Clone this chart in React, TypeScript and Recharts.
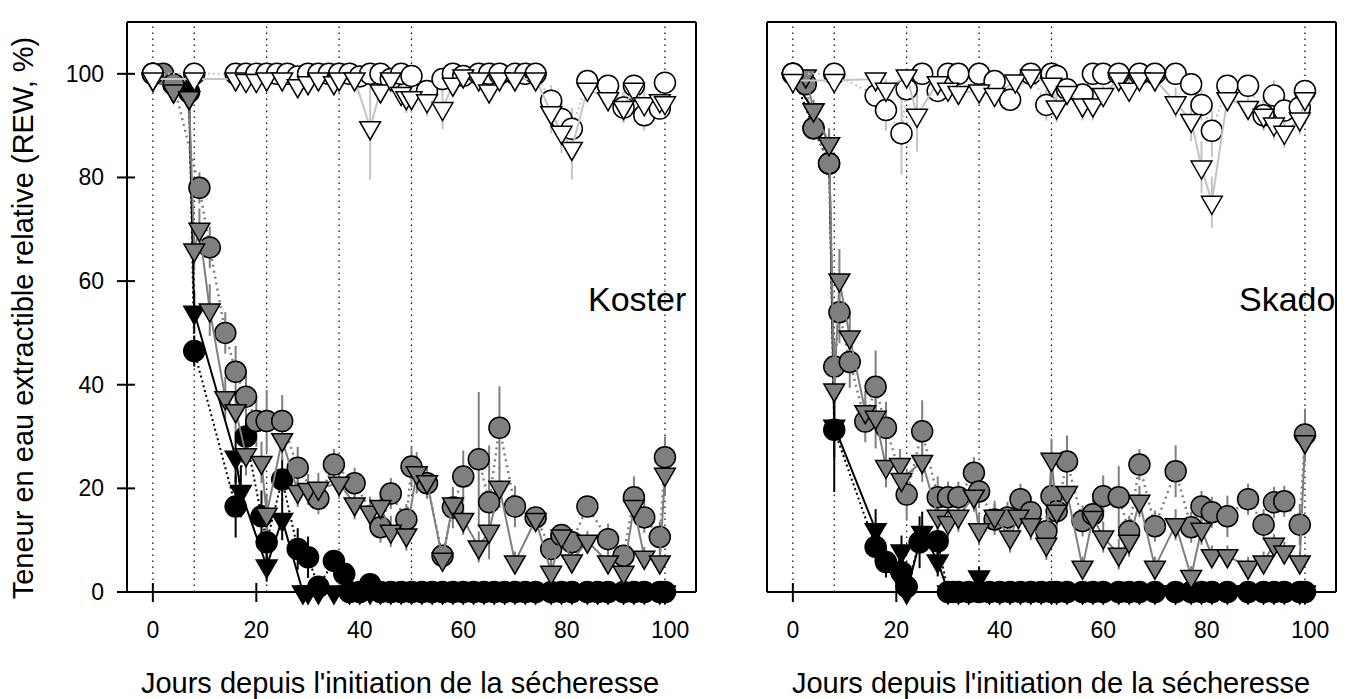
import React from "react";
import { ScatterChart, Scatter, XAxis, YAxis, ErrorBar, ReferenceLine } from "recharts";

// [day, REW %, SE]
type Pt = [number, number, number];

const xTicks = [0, 20, 40, 60, 80, 100];
const yTicks = [0, 20, 40, 60, 80, 100];
const phaseDays = [0, 8, 22, 36, 50, 99];

// ---- Koster ----
const kosterWhiteCircle: Pt[] = [
  [0, 100, 0], [8, 100, 0], [16, 100, 0], [18, 100, 0], [20, 100, 0], [22, 100, 0], [24, 100, 0], [26, 100, 0],
  [28, 99.5, 1], [30, 100, 0], [32, 100, 0], [34, 100, 0], [36, 100, 0], [38, 100, 0], [40, 99.5, 1], [42, 100, 0],
  [44, 100, 0], [46, 99, 2], [48, 100, 0], [50, 99.6, 1], [53, 96.7, 2], [56, 99, 2], [58, 100, 0], [60, 99.6, 1],
  [63, 100, 0], [65, 100, 0], [67, 100, 0], [70, 100, 0], [72, 100, 0], [74, 100, 0], [77, 94.8, 3], [79, 91.3, 4],
  [81, 89.4, 4], [84, 98.6, 1], [88, 97.7, 2], [91, 93.5, 3], [93, 97.7, 2], [95, 92, 3], [98, 93.3, 2], [99, 98.3, 2],
];
const kosterWhiteTri: Pt[] = [
  [0, 99, 0], [8, 99, 0], [16, 99, 0], [18, 98.7, 1], [20, 98.7, 1], [22, 99, 0], [25, 99, 0], [28, 97.7, 1],
  [30, 98.3, 1], [32, 99, 0], [35, 98.3, 1], [36, 99, 0], [39, 99, 0], [42, 89.6, 10], [44, 96.7, 2], [46, 99, 0],
  [48, 96.2, 2], [49, 95.4, 3], [50, 95.4, 3], [53, 94.8, 3], [56, 93.3, 4], [58, 98, 1], [60, 99.6, 0], [63, 99, 0],
  [65, 96.7, 2], [67, 99, 0], [70, 99, 0], [74, 99, 0], [77, 92.5, 4], [79, 88.7, 4], [81, 85.6, 6], [84, 97, 1],
  [88, 95.2, 2], [91, 93.5, 3], [93, 97, 2], [95, 94.2, 3], [98, 94.8, 2], [99, 94.4, 2],
];
const kosterGreyCircle: Pt[] = [
  [0, 100, 0], [2, 100, 0], [4, 98, 1], [9, 78, 3], [11, 66.5, 4], [14, 50, 4], [16, 42.5, 5], [18, 37.7, 5],
  [20, 33, 5], [22, 33, 6], [25, 33, 5], [28, 24, 4], [32, 18, 3], [35, 24.6, 3], [39, 21, 3], [44, 12.5, 3],
  [46, 19, 3], [49, 14, 3], [50, 24.2, 4], [53, 21, 3], [56, 7, 2], [58, 16.3, 4], [60, 22.3, 5], [63, 25.6, 13],
  [65, 17.3, 11], [67, 31.7, 8], [70, 16.5, 4], [74, 14.4, 2], [77, 8.3, 3], [79, 11, 2], [81, 9.6, 2], [84, 16.5, 2],
  [88, 10.2, 3], [91, 7, 2], [93, 18.3, 4], [95, 14.4, 3], [98, 10.6, 3], [99, 26, 4],
];
const kosterGreyTri: Pt[] = [
  [0, 99, 0], [4, 96.7, 1], [7, 95.4, 1], [8, 66, 4], [9, 70, 4], [11, 54.4, 5], [14, 37.5, 4], [16, 35, 4],
  [18, 26.5, 4], [21, 25, 4], [22, 15, 4], [25, 29.4, 4], [28, 19.4, 3], [30, 19.8, 3], [32, 20, 3], [36, 21, 3],
  [39, 17, 3], [42, 15.4, 3], [44, 16.5, 3], [46, 11.7, 3], [49, 11, 3], [51, 23, 4], [53, 21.3, 3], [56, 6.3, 2],
  [58, 17, 3], [60, 14, 3], [63, 8.7, 3], [65, 11.7, 3], [67, 20.2, 4], [70, 5.8, 2], [74, 14, 2], [77, 3.8, 2],
  [79, 10.8, 2], [81, 6, 2], [84, 9.8, 2], [88, 5.8, 2], [91, 3.8, 2], [93, 16.5, 2], [95, 6.7, 2], [98, 5.8, 2],
  [99, 22.7, 4],
];
const kosterBlackCircle: Pt[] = [
  [0, 100, 0], [4, 98, 0], [7, 96.5, 1], [8, 46.5, 3], [16, 16.5, 6], [18, 30, 4], [21, 14.6, 5], [22, 9.6, 5],
  [25, 21.7, 4], [28, 8.3, 4], [30, 6.7, 4], [32, 1, 1], [35, 6, 2], [37, 3.5, 2], [38, 0, 0], [40, 0, 0],
  [42, 1.5, 1], [44, 0, 0], [46, 0, 0], [48, 0, 0], [50, 0, 0], [52, 0, 0], [54, 0, 0], [56, 0, 0], [58, 0, 0],
  [60, 0, 0], [62, 0, 0], [64, 0, 0], [66, 0, 0], [68, 0, 0], [70, 0, 0], [72, 0, 0], [74, 0, 0], [77, 0, 0],
  [79, 0, 0], [81, 0, 0], [84, 0, 0], [86, 0, 0], [88, 0, 0], [91, 0, 0], [93, 0, 0], [95, 0, 0], [98, 0, 0],
  [99, 0, 0],
];
const kosterBlackTri: Pt[] = [
  [0, 99, 0], [4, 96.7, 0], [7, 95.4, 1], [8, 54, 4], [16, 26, 5], [17, 19.4, 5], [22, 5, 3], [25, 14, 4],
  [29, 0, 0], [30, 0, 0], [32, 0, 0], [35, 0, 0], [38, 0, 0], [40, 0, 0], [42, 0, 0], [44, 0, 0], [46, 0, 0],
  [48, 0, 0], [50, 0, 0], [52, 0, 0], [54, 0, 0], [56, 0, 0], [58, 0, 0], [60, 0, 0], [62, 0, 0], [64, 0, 0],
  [66, 0, 0], [68, 0, 0], [70, 0, 0], [72, 0, 0], [74, 0, 0], [77, 0, 0], [79, 0, 0], [81, 0, 0], [84, 0, 0],
  [86, 0, 0], [88, 0, 0], [91, 0, 0], [93, 0, 0], [95, 0, 0], [98, 0, 0], [99, 0, 0],
];

// ---- Skado ----
const skadoWhiteCircle: Pt[] = [
  [0, 100, 0], [8, 100, 0], [16, 95.8, 3], [18, 93, 4], [21, 88.5, 8], [22, 97, 2], [25, 100, 0], [28, 96.7, 2],
  [30, 100, 0], [32, 100, 0], [36, 100, 0], [39, 98.6, 2], [42, 95, 2], [46, 100, 0], [49, 94, 3], [50, 100, 0],
  [51, 99.6, 0], [53, 97, 2], [56, 96, 2], [58, 100, 0], [60, 100, 0], [63, 100, 0], [67, 100, 0], [70, 100, 0],
  [74, 100, 0], [77, 98, 2], [79, 94, 3], [81, 89, 5], [84, 97.7, 2], [88, 97.7, 2], [91, 92, 3], [93, 95.8, 3],
  [95, 92.9, 3], [98, 93.5, 2], [99, 96.7, 2],
];
const skadoWhiteTri: Pt[] = [
  [0, 98.7, 0], [8, 98.7, 0], [16, 99, 1], [18, 97, 2], [22, 99.6, 1], [24, 92, 7], [28, 98.3, 1], [30, 97, 1],
  [32, 96.4, 2], [36, 96.7, 2], [39, 96, 2], [43, 98.6, 1], [46, 99.6, 0], [50, 98, 1], [51, 93.6, 3], [53, 96.4, 2],
  [56, 94, 3], [58, 94, 3], [60, 96, 2], [63, 99, 1], [65, 97, 2], [67, 99, 0], [70, 99, 1], [74, 94.4, 3],
  [77, 91, 4], [79, 82, 5], [81, 75.2, 5], [84, 95.2, 2], [88, 93.5, 2], [91, 92, 3], [93, 90.3, 3], [95, 88.7, 3],
  [98, 91.3, 3], [99, 95.2, 3],
];
const skadoGreyCircle: Pt[] = [
  [0, 100, 0], [2.5, 98, 1], [4, 89.5, 2], [7, 82.7, 3], [8, 43.5, 5], [9, 54, 6], [11, 44.4, 5], [14, 32.9, 4],
  [16, 39.6, 7], [18, 31.7, 5], [22, 18.8, 5], [25, 31, 6], [28, 18.3, 4], [30, 18.3, 3], [32, 18.3, 3], [35, 23, 3],
  [36, 19.4, 3], [39, 14, 3], [41.5, 14.4, 3], [44, 17.9, 3], [46, 15.4, 3], [49, 11.7, 3], [50, 18.5, 4], [51, 15.6, 4],
  [53, 25.2, 5], [56, 13.7, 3], [58, 15, 3], [60, 18.5, 4], [63, 18.3, 6], [65, 11.7, 3], [67, 24.6, 3], [70, 12.7, 3],
  [74, 23.3, 5], [77, 12.5, 3], [79, 16.5, 3], [81, 15.4, 3], [84, 14.6, 4], [88, 17.9, 3], [91, 13, 3], [93, 17.3, 3],
  [95, 17.5, 3], [98, 13, 4], [99, 30.4, 5],
];
const skadoGreyTri: Pt[] = [
  [0, 99, 0], [2.5, 99.6, 1], [4, 93, 2], [7, 86.5, 3], [8, 39, 4], [9, 60.2, 6], [11, 49.2, 5], [14, 34.8, 4],
  [16, 33.7, 6], [18, 24.2, 4], [20.7, 24.6, 3], [21, 21.7, 3], [25, 25.2, 4], [28, 14.6, 3], [30, 13.4, 3], [32, 14.6, 3],
  [35, 18.5, 3], [36, 12, 3], [39, 14.6, 3], [42, 10.6, 3], [43.6, 14.6, 3], [46, 13, 3], [49, 9.2, 3], [50, 25.6, 4],
  [51, 15.6, 3], [53, 19.2, 3], [56, 4.8, 2], [58, 14.4, 3], [60, 10.6, 3], [63, 7.3, 3], [65, 9.8, 3], [67, 17.5, 3],
  [70, 4.8, 2], [74, 13, 3], [77, 3, 2], [79, 12.1, 3], [81, 7, 2], [84, 7, 2], [88, 4.8, 2], [91, 5.8, 2],
  [93, 9.2, 2], [95, 7.7, 2], [98, 5.8, 2], [99, 29, 4],
];
const skadoBlackCircle: Pt[] = [
  [0, 100, 0], [4, 89.5, 1], [7, 82.7, 2], [8, 31.3, 12], [16, 8.7, 3], [18, 5.8, 3], [21, 3.8, 3], [22, 1, 1],
  [24.5, 9.6, 5], [28, 9.8, 4], [30, 0, 0], [31, 0, 0], [32, 0, 0], [34, 0, 0], [36, 0, 0], [38, 0, 0], [40, 0, 0],
  [42, 0, 0], [44, 0, 0], [46, 0, 0], [48, 0, 0], [50, 0, 0], [51, 0, 0], [53, 0, 0], [56, 0, 0], [58, 0, 0],
  [60, 0, 0], [63, 0, 0], [65, 0, 0], [67, 0, 0], [70, 0, 0], [74, 0, 0], [77, 0, 0], [79, 0, 0], [81, 0, 0],
  [84, 0, 0], [88, 0, 0], [91, 0, 0], [93, 0, 0], [95, 0, 0], [98, 0, 0], [99, 0, 0],
];
const skadoBlackTri: Pt[] = [
  [0, 99, 0], [4, 93, 1], [7, 86.5, 2], [8, 32, 6], [16, 12, 4], [20, 4, 2], [21, 7.9, 3], [22, 0, 0],
  [25, 11.5, 4], [28, 6, 3], [30, 0, 0], [32, 0, 0], [34, 0, 0], [36, 2.9, 2], [38, 0, 0], [40, 0, 0], [42, 0, 0],
  [44, 0, 0], [46, 0, 0], [48, 0, 0], [50, 0, 0], [51, 0, 0], [53, 0, 0], [56, 0, 0], [58, 0, 0], [60, 0, 0],
  [63, 0, 0], [65, 0, 0], [67, 0, 0], [70, 0, 0], [74, 0, 0], [77, 0, 0], [79, 0, 0], [81, 0, 0], [84, 0, 0],
  [88, 0, 0], [91, 0, 0], [93, 0, 0], [95, 0, 0], [98, 0, 0], [99, 0, 0],
];

const FONT = '"Liberation Sans", Arial, Helvetica, sans-serif';
const GREY = "#7f7f7f";
const LIGHT = "#c4c4c4";
const axisLine = { stroke: "#000", strokeWidth: 2 };

type Series = { key: string; pts: Pt[]; fill: string; shape: "c" | "t"; line: string; dash?: string; lw: number; err: string };

// drawing order: black, grey, white (white on top)
function seriesFor(gc: Pt[], gt: Pt[], bc: Pt[], bt: Pt[], wc: Pt[], wt: Pt[]): Series[] {
  return [
    { key: "bc", pts: bc, fill: "#000", shape: "c", line: "#000", dash: "2 3", lw: 2, err: "#000" },
    { key: "bt", pts: bt, fill: "#000", shape: "t", line: "#000", lw: 2, err: "#000" },
    { key: "gc", pts: gc, fill: GREY, shape: "c", line: GREY, dash: "2 4", lw: 2.5, err: GREY },
    { key: "gt", pts: gt, fill: GREY, shape: "t", line: GREY, lw: 2, err: GREY },
    { key: "wc", pts: wc, fill: "#fff", shape: "c", line: LIGHT, dash: "2 3", lw: 2, err: LIGHT },
    { key: "wt", pts: wt, fill: "#fff", shape: "t", line: LIGHT, lw: 2, err: LIGHT },
  ];
}

const circleShape = (fill: string) => (p: any) =>
  <circle cx={p.cx} cy={p.cy} r={10.5} fill={fill} stroke="#000" strokeWidth={1.5} />;

const triShape = (fill: string) => (p: any) => {
  const { cx, cy } = p;
  return (
    <polygon
      points={`${cx - 10.4},${cy - 6} ${cx + 10.4},${cy - 6} ${cx},${cy + 12}`}
      fill={fill}
      stroke="#000"
      strokeWidth={1.5}
    />
  );
};

const BottomTick = (p: any) => (
  <g>
    <line x1={p.x} x2={p.x} y1={p.y - 9} y2={p.y + 10} stroke="#000" strokeWidth={2} />
    <text x={p.x} y={p.y + 46} textAnchor="middle" fontSize={23} fontFamily={FONT} fill="#000">
      {p.payload.value}
    </text>
  </g>
);
const TopTick = (p: any) => <line x1={p.x} x2={p.x} y1={p.y - 9} y2={p.y + 10} stroke="#000" strokeWidth={2} />;
const LeftTick = (p: any) => (
  <g>
    <line x1={p.x - 10} x2={p.x + 8} y1={p.y} y2={p.y} stroke="#000" strokeWidth={2} />
    <text x={p.x - 23} y={p.y + 8} textAnchor="end" fontSize={23} fontFamily={FONT} fill="#000">
      {p.payload.value}
    </text>
  </g>
);
const RightTick = (p: any) => <line x1={p.x - 9} x2={p.x + 10} y1={p.y} y2={p.y} stroke="#000" strokeWidth={2} />;

function Panel({ series, isLeft }: { series: Series[]; isLeft: boolean }) {
  return (
    <ScatterChart width={isLeft ? 710 : 634} height={699} margin={{ top: 0, right: isLeft ? 4 : 0, bottom: 47, left: 0 }}>
      <XAxis xAxisId="b" type="number" dataKey="x" domain={[-5, 105]} ticks={xTicks} interval={0} orientation="bottom"
        height={60} tickSize={0} tickMargin={0} tickLine={false} axisLine={axisLine} tick={BottomTick} />
      <XAxis xAxisId="t" type="number" dataKey="x" domain={[-5, 105]} ticks={xTicks} interval={0} orientation="top"
        height={22} tickSize={0} tickMargin={0} tickLine={false} axisLine={axisLine} tick={TopTick} />
      <YAxis yAxisId="l" type="number" dataKey="y" domain={[0, 110]} ticks={yTicks} interval={0} orientation="left"
        width={isLeft ? 127 : 47} tickSize={0} tickMargin={0} tickLine={false} axisLine={axisLine}
        tick={isLeft ? LeftTick : false} />
      <YAxis yAxisId="r" type="number" dataKey="y" domain={[0, 110]} ticks={yTicks} interval={0} orientation="right"
        width={isLeft ? 10 : 18} tickSize={0} tickMargin={0} tickLine={false} axisLine={axisLine}
        tick={isLeft ? false : RightTick} />
      {phaseDays.map((d) => (
        <ReferenceLine key={d} x={d} xAxisId="b" yAxisId="l" stroke="#000" strokeWidth={1.2} strokeDasharray="1.5 4.5" />
      ))}
      {series.map((s) => (
        <Scatter
          key={s.key}
          data={s.pts.map(([x, y, e]) => ({ x, y, e }))}
          xAxisId="b"
          yAxisId="l"
          isAnimationActive={false}
          shape={s.shape === "c" ? circleShape(s.fill) : triShape(s.fill)}
          line={{ stroke: s.line, strokeWidth: s.lw, strokeDasharray: s.dash }}
          lineJointType="linear"
        >
          <ErrorBar dataKey="e" direction="y" width={0} stroke={s.err} strokeWidth={2} />
        </Scatter>
      ))}
    </ScatterChart>
  );
}

export default function App() {
  const koster = seriesFor(kosterGreyCircle, kosterGreyTri, kosterBlackCircle, kosterBlackTri, kosterWhiteCircle, kosterWhiteTri);
  const skado = seriesFor(skadoGreyCircle, skadoGreyTri, skadoBlackCircle, skadoBlackTri, skadoWhiteCircle, skadoWhiteTri);
  return (
    <div style={{ position: "absolute", left: 0, top: 0, width: 1354, height: 699, background: "#fff" }}>
      <div style={{ position: "absolute", left: 0, top: 0 }}>
        <Panel series={koster} isLeft={true} />
      </div>
      <div style={{ position: "absolute", left: 720, top: 0 }}>
        <Panel series={skado} isLeft={false} />
      </div>
      <svg width={1354} height={699} style={{ position: "absolute", left: 0, top: 0, pointerEvents: "none" }}>
        <text transform="translate(33,318) rotate(-90)" textAnchor="middle" fontSize={29} fontFamily={FONT} fill="#000">
          Teneur en eau extractible relative (REW, %)
        </text>
        <text x={400} y={693} textAnchor="middle" fontSize={29} fontFamily={FONT} fill="#000">
          Jours depuis l'initiation de la sécheresse
        </text>
        <text x={1051} y={693} textAnchor="middle" fontSize={29} fontFamily={FONT} fill="#000">
          Jours depuis l'initiation de la sécheresse
        </text>
        <text x={588} y={311} fontSize={34} fontFamily={FONT} fill="#000">Koster</text>
        <text x={1239} y={311} fontSize={34} fontFamily={FONT} fill="#000">Skado</text>
      </svg>
    </div>
  );
}
